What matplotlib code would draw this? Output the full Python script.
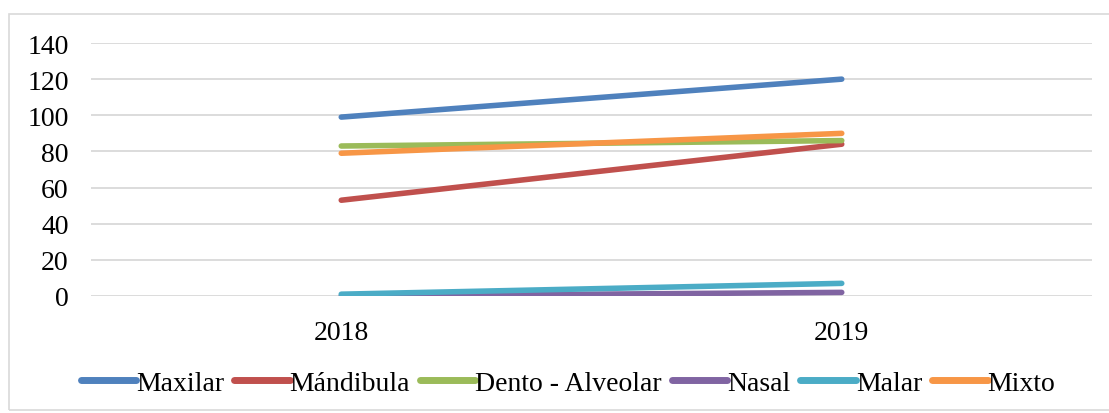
import matplotlib.pyplot as plt
from matplotlib.patches import Rectangle

years = ["2018", "2019"]
series_names = ["Maxilar", "Mándibula", "Dento - Alveolar", "Nasal", "Malar", "Mixto"]
maxilar = [99, 120]
mandibula = [53, 84]
dento = [83, 86]
nasal = [0, 2]
malar = [1, 7]
mixto = [79, 90]
colors = ["#4F81BD", "#C0504D", "#9BBB59", "#8064A2", "#4BACC6", "#F79646"]

plt.rcParams['font.family'] = ['Liberation Serif', 'DejaVu Serif']

fig = plt.figure(figsize=(11.09, 4.14), dpi=100)
ax = fig.add_axes([91 / 1109, 117 / 414, 1001 / 1109, 253 / 414])

# chart frame
fig.patches.append(Rectangle((9 / 1109, 3 / 414), 1.0, 396 / 414, transform=fig.transFigure,
                             fill=False, edgecolor="#D9D9D9", linewidth=1.2))

x = [0.5, 1.5]
for vals, name, c in zip([maxilar, mandibula, dento, nasal, malar, mixto], series_names, colors):
    ax.plot(x, vals, color=c, linewidth=4.0, solid_capstyle="round", label=name)

ax.set_xlim(0, 2)
ax.set_ylim(0, 140)
ax.set_yticks(range(0, 141, 20))
ax.set_xticks(x)
ax.set_xticklabels(years)
ax.tick_params(axis="both", length=0, labelsize=20, colors="black")
ax.tick_params(axis="y", pad=16)
ax.tick_params(axis="x", pad=17)
ax.grid(axis="y", color="#D9D9D9", linewidth=1.3)
ax.set_axisbelow(True)
for s in ax.spines.values():
    s.set_visible(False)

leg = fig.legend(loc="center", bbox_to_anchor=(568 / 1109, 30 / 414), ncol=6, frameon=False,
                 fontsize=20, handlelength=2.0, handletextpad=0.0, columnspacing=0.35)
for h in leg.legend_handles:
    h.set_linewidth(5)

fig.savefig("out.png", dpi=100)
